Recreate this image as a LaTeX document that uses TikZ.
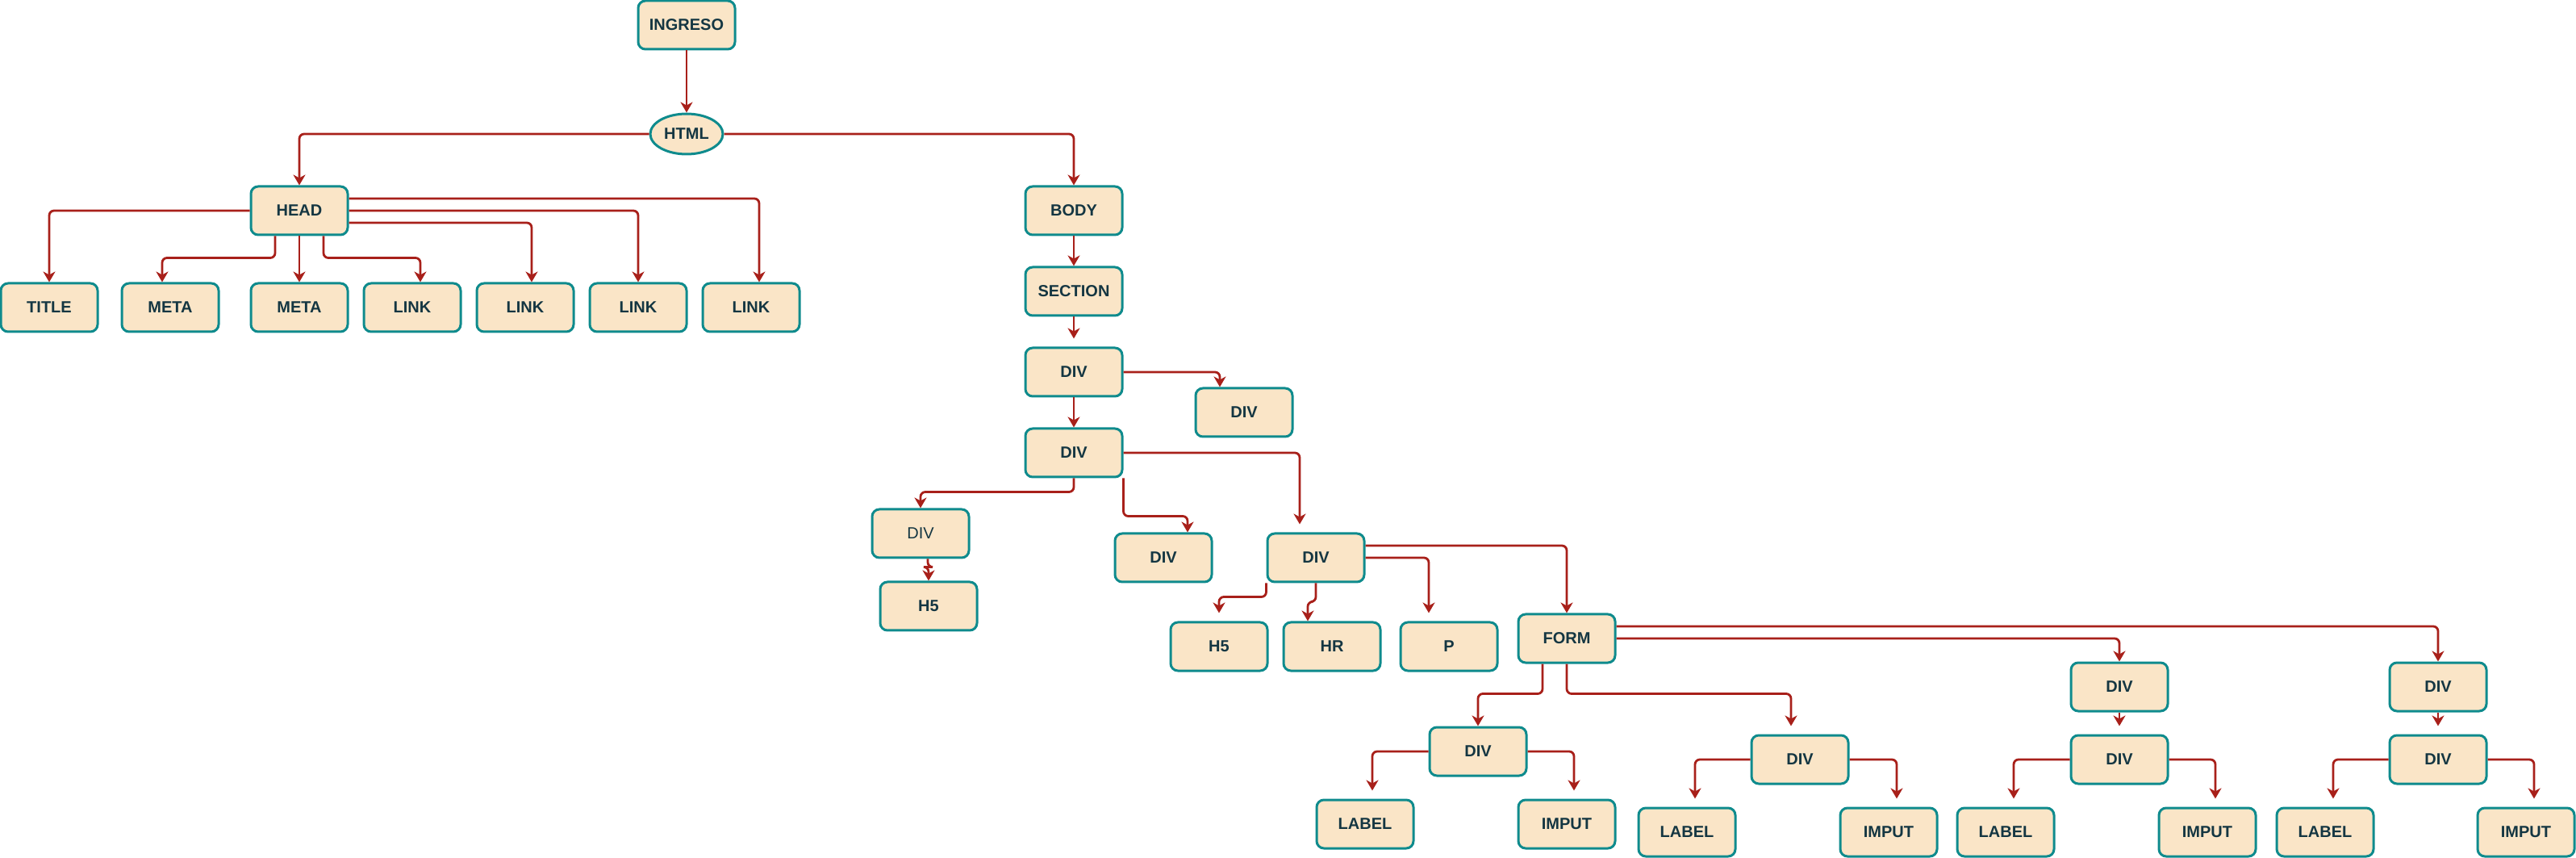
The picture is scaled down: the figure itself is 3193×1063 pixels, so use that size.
\documentclass[tikz,border=0pt]{standalone}
\usepackage{fontspec}
\setmainfont{Liberation Sans}
\usetikzlibrary{arrows.meta}
\usetikzlibrary{shapes.geometric}
\definecolor{boxfill}{HTML}{FAE5C7}
\definecolor{boxline}{HTML}{0F8B8D}
\definecolor{linkred}{HTML}{A8201A}
\definecolor{tagtext}{HTML}{143642}

\begin{document}
\begin{tikzpicture}[x=0.5pt,y=-0.5pt,
    >={Stealth[length=6.5pt,width=7.5pt,inset=2pt]},
    tag/.style={draw=boxline,fill=boxfill,line width=1.5pt,rounded corners=4.5pt,
      minimum width=60pt,minimum height=30pt,inner sep=0pt,text=tagtext,
      font=\fontsize{10pt}{12pt}\selectfont\bfseries},
    plaintag/.style={tag,font=\fontsize{10pt}{12pt}\selectfont},
    root/.style={tag,ellipse,sharp corners,minimum width=45pt,minimum height=25pt},
    link/.style={->,draw=linkred,line width=1.4pt,rounded corners=3pt},
    gap/.style={shorten >=5pt}]
    \useasboundingbox (0,0) rectangle (3193,1063);

    \node[tag] (ingreso) at (851,31) {INGRESO};
    \node[root] (html) at (851,166) {HTML};
    \node[tag] (head) at (371,261) {HEAD};
    \node[tag] (body) at (1331,261) {BODY};
    \node[tag] (title) at (61,381) {TITLE};
    \node[tag] (meta1) at (211,381) {META};
    \node[tag] (meta2) at (371,381) {META};
    \node[tag] (link1) at (511,381) {LINK};
    \node[tag] (link2) at (651,381) {LINK};
    \node[tag] (link3) at (791,381) {LINK};
    \node[tag] (link4) at (931,381) {LINK};
    \node[tag] (section) at (1331,361) {SECTION};
    \node[tag] (div1) at (1331,461) {DIV};
    \node[tag] (div1b) at (1542,511) {DIV};
    \node[tag] (div2) at (1331,561) {DIV};
    \node[plaintag] (div2a) at (1141,661) {DIV};
    \node[tag] (h5a) at (1151,751) {H5};
    \node[tag] (div2b) at (1442,691) {DIV};
    \node[tag] (div3) at (1631,691) {DIV};
    \node[tag] (h5b) at (1511,801) {H5};
    \node[tag] (hr) at (1651,801) {HR};
    \node[tag] (p) at (1796,801) {P};
    \node[tag] (form) at (1942,791) {FORM};
    \node[tag] (fdiv1) at (1832,931) {DIV};
    \node[tag] (fdiv2) at (2231,941) {DIV};
    \node[tag] (fdiv3) at (2627,851) {DIV};
    \node[tag] (fdiv3b) at (2627,941) {DIV};
    \node[tag] (fdiv4) at (3022,851) {DIV};
    \node[tag] (fdiv4b) at (3022,941) {DIV};
    \node[tag] (label1) at (1692,1021) {LABEL};
    \node[tag] (imput1) at (1942,1021) {IMPUT};
    \node[tag] (label2) at (2091,1031) {LABEL};
    \node[tag] (imput2) at (2341,1031) {IMPUT};
    \node[tag] (label3) at (2486,1031) {LABEL};
    \node[tag] (imput3) at (2736,1031) {IMPUT};
    \node[tag] (label4) at (2882,1031) {LABEL};
    \node[tag] (imput4) at (3131,1031) {IMPUT};

    % head
    \draw[link] (ingreso) -- (html);
    \draw[link] (html.west) -| (head.north);
    \draw[link] (html.east) -| (body.north);
    \draw[link] (head.west) -| (title.north);
    \draw[link] ([xshift=-15pt]head.south) |- ([xshift=-5pt,yshift=15pt]meta1.north) -- ([xshift=-5pt]meta1.north);
    \draw[link] (head) -- (meta2);
    \draw[link] ([xshift=15pt]head.south) |- ([xshift=5pt,yshift=15pt]link1.north) -- ([xshift=5pt]link1.north);
    \draw[link] ([yshift=-7.5pt]head.east) -| ([xshift=4pt]link2.north);
    \draw[link] (head.east) -| (link3.north);
    \draw[link] ([yshift=7.5pt]head.east) -| ([xshift=5pt]link4.north);

    % body
    \draw[link] (body) -- (section);
    \draw[link,gap] (section) -- (div1);
    \draw[link] (div1.east) -| ([xshift=-15pt]div1b.north);
    \draw[link] (div1) -- (div2);
    \draw[link] (div2.south) |- ([yshift=10pt]div2a.north) -- (div2a.north);
    \draw[link] ([xshift=4.5pt]div2a.south) -- ++(0,-5pt) -| (h5a.north);
    \draw[link] (div2.south east) |- ([xshift=15pt,yshift=10pt]div2b.north) -- ([xshift=15pt]div2b.north);
    \draw[link,gap] (div2.east) -| ([xshift=-10pt]div3.north);
    \draw[link,gap] (div3.south west) |- ([yshift=15pt]h5b.north) -- (h5b.north);
    \draw[link] (div3.south) |- ([xshift=-15pt,yshift=12pt]hr.north) -- ([xshift=-15pt]hr.north);
    \draw[link,gap] (div3.east) -| ([xshift=-12.5pt]p.north);
    \draw[link] ([yshift=7.5pt]div3.east) -| (form.north);

    % form
    \draw[link] ([xshift=-15pt]form.south) |- ([yshift=20pt]fdiv1.north) -- (fdiv1.north);
    \draw[link,gap] (form.south) |- ([xshift=-5.5pt,yshift=25pt]fdiv2.north) -- ([xshift=-5.5pt]fdiv2.north);
    \draw[link] (form.east) -| (fdiv3.north);
    \draw[link] ([yshift=7.5pt]form.east) -| (fdiv4.north);
    \draw[link,gap] (fdiv3) -- (fdiv3b);
    \draw[link,gap] (fdiv4) -- (fdiv4b);
    \draw[link,gap] (fdiv1.west) -| ([xshift=4.5pt]label1.north);
    \draw[link,gap] (fdiv1.east) -| ([xshift=4.5pt]imput1.north);
    \draw[link,gap] (fdiv2.west) -| ([xshift=5pt]label2.north);
    \draw[link,gap] (fdiv2.east) -| ([xshift=5pt]imput2.north);
    \draw[link,gap] (fdiv3b.west) -| ([xshift=5pt]label3.north);
    \draw[link,gap] (fdiv3b.east) -| ([xshift=5pt]imput3.north);
    \draw[link,gap] (fdiv4b.west) -| ([xshift=5pt]label4.north);
    \draw[link,gap] (fdiv4b.east) -| ([xshift=5pt]imput4.north);
\end{tikzpicture}
\end{document}
